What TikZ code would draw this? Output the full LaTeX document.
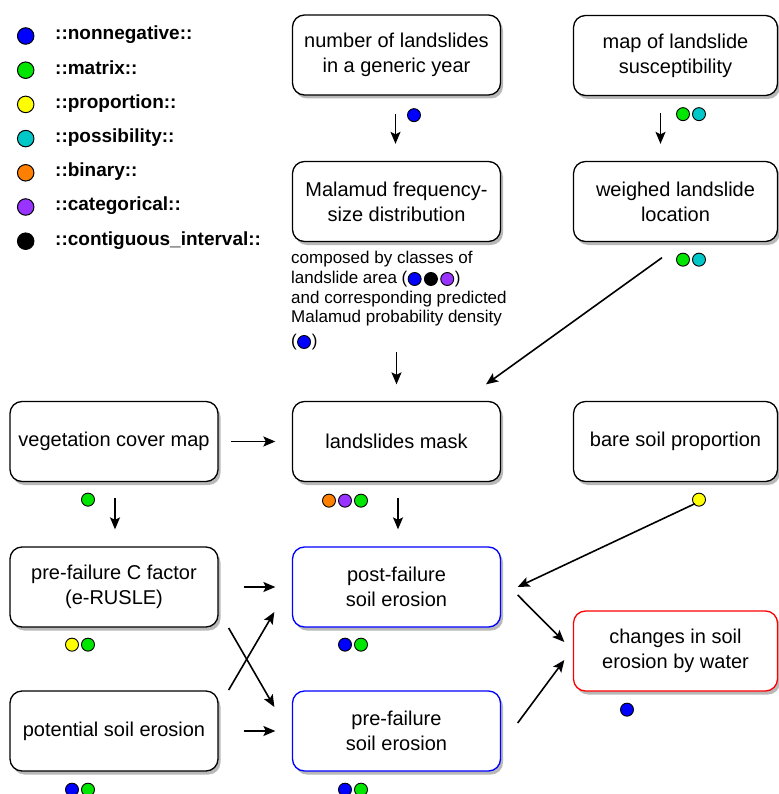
\documentclass[tikz,border=0pt]{standalone}
\usepackage{fontspec}
\setmainfont{Liberation Sans}
\usetikzlibrary{arrows.meta,shadows,calc}
\definecolor{dblue}{RGB}{0,0,255}
\definecolor{dgreen}{RGB}{0,230,0}
\definecolor{dyellow}{RGB}{255,255,0}
\definecolor{dcyan}{RGB}{0,200,200}
\definecolor{dorange}{RGB}{255,128,0}
\definecolor{dpurple}{RGB}{153,51,255}
\definecolor{dblack}{RGB}{0,0,0}
\definecolor{bblue}{RGB}{0,0,255}
\definecolor{bred}{RGB}{255,0,0}
\begin{document}
\begin{tikzpicture}[x=1pt,y=-1pt,
  box/.style={draw=black, line width=1.3pt, rounded corners=12pt, fill=white,
    minimum width=208pt, minimum height=80pt, align=center, inner sep=0pt,
    font=\fontsize{20}{25}\selectfont,
    drop shadow={shadow xshift=2.5pt, shadow yshift=-3.5pt, opacity=0.28, fill=black}},
  arr/.style={-{Stealth[length=12pt,width=10pt,inset=2.5pt]}, line width=1.6pt},
  ldot/.style={draw=black, line width=1pt, circle, minimum size=16.5pt, inner sep=0pt},
  sdot/.style={draw=black, line width=0.9pt, circle, minimum size=13pt, inner sep=0pt},
  leg/.style={anchor=base west, font=\fontsize{19}{23}\bfseries\selectfont, inner sep=0pt},
  captxt/.style={anchor=base west, font=\fontsize{17}{20}\selectfont, inner sep=0pt}
]
\useasboundingbox (0,0) rectangle (778,794);

% legend
\node[ldot, fill=dblue]   (l1) at (25.7,36) {};
\node[ldot, fill=dgreen]  (l2) at (25.7,70.2) {};
\node[ldot, fill=dyellow] (l3) at (25.7,104.4) {};
\node[ldot, fill=dcyan]   (l4) at (25.7,138.6) {};
\node[ldot, fill=dorange] (l5) at (25.7,172.8) {};
\node[ldot, fill=dpurple] (l6) at (25.7,207) {};
\node[ldot, fill=dblack]  (l7) at (25.7,241.2) {};
\node[leg] (t1) at (55,40) {::nonnegative::};
\node[leg] (t2) at (55,74.2) {::matrix::};
\node[leg] (t3) at (55,108.4) {::proportion::};
\node[leg] (t4) at (55,142.6) {::possibility::};
\node[leg] (t5) at (55,176.8) {::binary::};
\node[leg] (t6) at (55,211) {::categorical::};
\node[leg] (t7) at (55,245.2) {::contiguous\_interval::};

% boxes
\node[box] (num) at (396.5,55) {number of landslides\\in a generic year};
\node[box, minimum width=204pt] (map) at (675.5,55.5) {map of landslide\\susceptibility};
\node[box] (mal) at (396.5,201.5) {Malamud frequency-\\size distribution};
\node[box, minimum width=204pt] (wei) at (675.5,201.5) {weighed landslide\\location};
\node[box] (veg) at (114,441.5) {vegetation cover map};
\node[box] (mask) at (396.5,441.5) {landslides mask};
\node[box, minimum width=204pt] (bare) at (675.5,441.5) {bare soil proportion};
\node[box] (cfac) at (114,587) {pre-failure C factor\\(e-RUSLE)};
\node[box, draw=bblue] (post) at (396.5,587) {post-failure\\soil erosion};
\node[box, draw=bred, minimum width=204pt] (chg) at (675.5,651) {changes in soil\\erosion by water};
\node[box] (pot) at (114,731) {potential soil erosion};
\node[box, draw=bblue] (pre) at (396.5,731) {pre-failure\\soil erosion};

% caption under Malamud
\node[captxt] (c1) at (291,263.5) {composed by classes of};
\node[captxt] (c2) at (291,283) {landslide area (};
\node[sdot, fill=dblue]   (c2d1) at ($(c2.base east)+(7,-4)$) {};
\node[sdot, fill=dblack]  (c2d2) at ($(c2.base east)+(23.3,-4)$) {};
\node[sdot, fill=dpurple] (c2d3) at ($(c2.base east)+(39.6,-4)$) {};
\node[captxt] (c2b) at ($(c2.base east)+(47,0)$) {)};
\node[captxt] (c3) at (291,303) {and corresponding predicted};
\node[captxt] (c4) at (291,322.5) {Malamud probability density};
\node[captxt] (c5) at (291,346.5) {(};
\node[sdot, fill=dblue] (c5d) at ($(c5.base east)+(7,-4.5)$) {};
\node[captxt] (c5b) at ($(c5.base east)+(14.5,0)$) {)};

% type dots
\node[sdot, fill=dblue]   (dnum) at ($(num.south)+(17.5,19.5)$) {};
\node[sdot, fill=dgreen]  (dmap1) at ($(map.south)+(7.5,18)$) {};
\node[sdot, fill=dcyan]   (dmap2) at ($(map.south)+(23.5,18)$) {};
\node[sdot, fill=dgreen]  (dwei1) at ($(wei.south)+(7.5,17.5)$) {};
\node[sdot, fill=dcyan]   (dwei2) at ($(wei.south)+(23.5,17.5)$) {};
\node[sdot, fill=dgreen]  (dveg) at ($(veg.south)+(-26,17.5)$) {};
\node[sdot, fill=dorange] (dmask1) at ($(mask.south)+(-67.5,18.5)$) {};
\node[sdot, fill=dpurple] (dmask2) at ($(mask.south)+(-51.5,18.5)$) {};
\node[sdot, fill=dgreen]  (dmask3) at ($(mask.south)+(-35.5,18.5)$) {};
\node[sdot, fill=dyellow] (dbare) at ($(bare.south)+(23.5,17.5)$) {};
\node[sdot, fill=dyellow] (dcfac1) at ($(cfac.south)+(-42,17)$) {};
\node[sdot, fill=dgreen]  (dcfac2) at ($(cfac.south)+(-26,17)$) {};
\node[sdot, fill=dblue]   (dpost1) at ($(post.south)+(-51.5,17)$) {};
\node[sdot, fill=dgreen]  (dpost2) at ($(post.south)+(-35.5,17)$) {};
\node[sdot, fill=dblue]   (dchg) at ($(chg.south)+(-48.5,18)$) {};
\node[sdot, fill=dblue]   (dpot1) at ($(pot.south)+(-42,18)$) {};
\node[sdot, fill=dgreen]  (dpot2) at ($(pot.south)+(-26,18)$) {};
\node[sdot, fill=dblue]   (dpre1) at ($(pre.south)+(-51.5,18)$) {};
\node[sdot, fill=dgreen]  (dpre2) at ($(pre.south)+(-35.5,18)$) {};

% connectors
\draw[arr] ($(num.south)+(-1,18)$) -- ($(mal.north)+(-1,-17)$);
\draw[arr] ($(map.south)+(-15,17)$) -- ($(wei.north)+(-15,-17)$);
\draw[arr] ($(mal.south)+(0,110)$) -- ($(mask.north)+(0,-16.5)$);
\draw[arr] ($(wei.south)+(-13.5,15.5)$) -- ($(mask.north)+(89.5,-16.5)$);
\draw[arr] ($(veg.east)+(12,0)$) -- ($(mask.west)+(-16.5,0)$);
\draw[arr] ($(veg.south)+(1,16)$) -- ($(cfac.north)+(1,-17)$);
\draw[arr] ($(mask.south)+(1.5,16)$) -- ($(post.north)+(1.5,-17)$);
\draw[arr] ($(bare.south)+(19.5,21.5)$) -- ($(post.east)+(16.5,0)$);
\draw[arr] ($(cfac.east)+(25,0)$) -- ($(post.west)+(-16.5,0)$);
\draw[arr] ($(cfac.east)+(10,41)$) -- ($(pre.west)+(-17.5,-24)$);
\draw[arr] ($(pot.east)+(10,-41)$) -- ($(post.west)+(-17.5,25)$);
\draw[arr] ($(pot.east)+(25,0)$) -- ($(pre.west)+(-16.5,0)$);
\draw[arr] ($(post.east)+(16.5,8)$) -- ($(chg.west)+(-8.5,-9)$);
\draw[arr] ($(pre.east)+(16.5,-8)$) -- ($(chg.west)+(-8.5,9)$);
\end{tikzpicture}
\end{document}
